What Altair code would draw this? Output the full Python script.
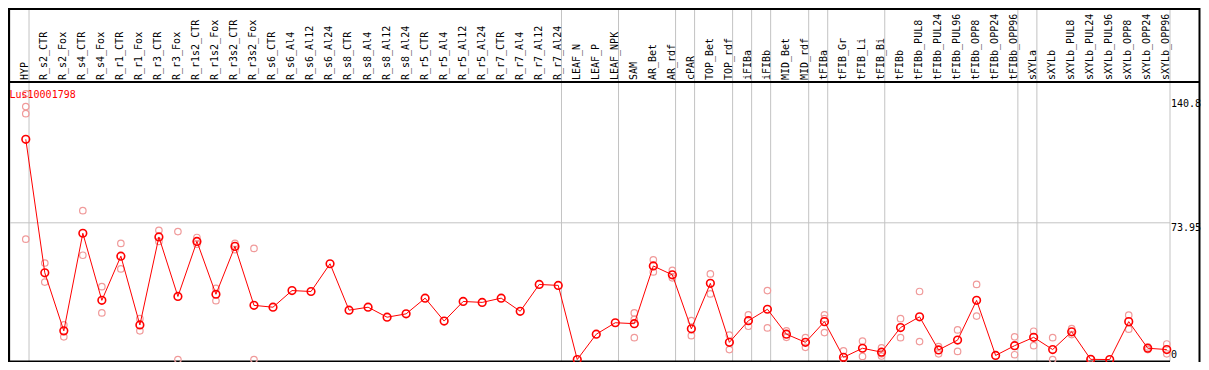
import altair as alt
import pandas as pd

# ---------------- data ----------------
categories = [
    "HYP", "R_s2_CTR", "R_s2_Fox", "R_s4_CTR", "R_s4_Fox", "R_r1_CTR", "R_r1_Fox",
    "R_r3_CTR", "R_r3_Fox", "R_r1s2_CTR", "R_r1s2_Fox", "R_r3s2_CTR", "R_r3s2_Fox",
    "R_s6_CTR", "R_s6_Al4", "R_s6_Al12", "R_s6_Al24", "R_s8_CTR", "R_s8_Al4",
    "R_s8_Al12", "R_s8_Al24", "R_r5_CTR", "R_r5_Al4", "R_r5_Al12", "R_r5_Al24",
    "R_r7_CTR", "R_r7_Al4", "R_r7_Al12", "R_r7_Al24", "LEAF_N", "LEAF_P", "LEAF_NPK",
    "SAM", "AR_Bet", "AR_rdf", "cPAR", "TOP_Bet", "TOP_rdf", "iFIBa", "iFIBb",
    "MID_Bet", "MID_rdf", "tFIBa", "tFIB_Gr", "tFIB_Li", "tFIB_Bi", "tFIBb",
    "tFIBb_PUL8", "tFIBb_PUL24", "tFIBb_PUL96", "tFIBb_OPP8", "tFIBb_OPP24",
    "tFIBb_OPP96", "sXYLa", "sXYLb", "sXYLb_PUL8", "sXYLb_PUL24", "sXYLb_PUL96",
    "sXYLb_OPP8", "sXYLb_OPP24", "sXYLb_OPP96",
]

means = [
    119.1, 46.9, 15.5, 68.3, 32.0, 55.9, 18.7, 66.3, 34.1, 63.9, 35.3, 61.2, 29.3,
    28.3, 37.3, 36.8, 51.8, 26.7, 28.3, 22.9, 24.7, 33.2, 20.8, 31.4, 30.9,
    33.2, 26.1, 40.6, 40.1, 0.0, 13.7, 19.9,
    19.4, 50.6, 45.8, 16.6, 41.2, 9.3, 21.0, 27.2, 13.7, 9.3, 20.5, 1.2, 6.1, 4.0,
    17.3, 23.1, 5.2, 10.5, 32.0, 2.2, 7.5, 12.0, 5.4, 15.0, 0.1, 0.0, 20.5, 6.1, 5.4,
]

replicates = [
    [143.7, 136.8, 133.0, 65.1], [52.2, 41.9], [18.7, 12.3], [80.5, 56.4], [39.4, 25.2],
    [62.8, 49.0], [22.1, 15.5], [69.9, 63.9], [69.2, 0.0], [66.0, 62.4], [38.5, 31.8],
    [62.8, 59.4], [60.1, 0.0],
    [], [], [], [], [], [], [], [], [], [], [], [], [], [], [], [], [], [], [],
    [25.2, 21.7, 11.8], [53.9, 47.4], [48.2, 44.2], [21.0, 12.9], [46.3, 35.5],
    [13.2, 5.4], [24.2, 18.0], [37.3, 17.1], [15.5, 12.0], [11.8, 6.6],
    [24.2, 22.1, 14.6], [4.7, 0.0], [10.0, 1.7], [6.3, 3.1, 1.9],
    [22.1, 11.8], [36.8, 9.7], [7.0, 3.1], [16.0, 4.4], [40.6, 23.5], [],
    [12.3, 2.6], [15.3, 7.5], [11.8, 0.0], [16.7, 13.5], [0.3], [],
    [24.0, 16.4], [6.8, 5.4], [8.4, 3.1],
]

group_breaks = [0, 1, 29, 32, 35, 36, 38, 39, 40, 42, 43, 46, 53, 54, 61]
tick_values = [140.8, 73.95, 0]
gene_name = "Lus10001798"

# ---------------- geometry (svg coordinates) ----------------
W, H = 1193, 354
COL = 1160 / 61.0
X0 = 2.0
u_min = -X0 / COL
u_max = (W - X0) / COL
PX = 1.8489
Y0 = 351.53
v_min = (Y0 - H) / PX
v_max = Y0 / PX
OFF = 0.83
HEAD_Y = 74
BOT_Y = 353.3

xs = alt.Scale(domain=[u_min, u_max], nice=False, zero=False)
ys = alt.Scale(domain=[v_min, v_max], nice=False, zero=False)

FONT = "DejaVu Sans Mono"

mean_df = pd.DataFrame({"cat": categories,
                        "u": [i + OFF for i in range(len(categories))],
                        "lu": [i + OFF - 0.03 for i in range(len(categories))],
                        "v": means})
rep_rows = []
for i, reps in enumerate(replicates):
    for r in reps:
        rep_rows.append({"cat": categories[i], "u": i + OFF, "v": r})
rep_df = pd.DataFrame(rep_rows)
break_df = pd.DataFrame({"u": group_breaks})
hgrid_df = pd.DataFrame({"v": [tick_values[1]], "u0": [u_min], "u1": [group_breaks[-1]]})
tick_df = pd.DataFrame({"v": tick_values, "t": [str(t) for t in tick_values]})
title_df = pd.DataFrame({"t": [gene_name]})


def X(f):
    return alt.X(f, scale=xs, axis=None)


def Y(f):
    return alt.Y(f, scale=ys, axis=None)


vgrid = alt.Chart(break_df).mark_rule(color="#c3c3c3", strokeWidth=1).encode(
    x=X("u:Q"), y=alt.value(0), y2=alt.value(BOT_Y))

hgrid = alt.Chart(hgrid_df).mark_rule(color="#c3c3c3", strokeWidth=1).encode(
    x=X("u0:Q"), x2="u1:Q", y=Y("v:Q"))

black = "#000000"
top_line = alt.Chart(title_df).mark_rule(color=black, strokeWidth=2).encode(
    x=alt.value(0), x2=alt.value(1192), y=alt.value(1))
head_line = alt.Chart(title_df).mark_rule(color=black, strokeWidth=2).encode(
    x=alt.value(0), x2=alt.value(1192), y=alt.value(HEAD_Y))
bottom_line = alt.Chart(hgrid_df).mark_rule(color=black, strokeWidth=1.5).encode(
    x=X("u0:Q"), x2="u1:Q", y=alt.value(BOT_Y))
left_line = alt.Chart(title_df).mark_rule(color=black, strokeWidth=2).encode(
    x=alt.value(1), y=alt.value(0), y2=alt.value(H))
right_line = alt.Chart(title_df).mark_rule(color=black, strokeWidth=2).encode(
    x=alt.value(1191.5), y=alt.value(0), y2=alt.value(H))

rep_pts = alt.Chart(rep_df).mark_point(shape="circle", filled=False, color="#f09a9a",
                                        size=42, strokeWidth=1.2, opacity=1).encode(
    x=X("u:Q"), y=Y("v:Q"))

mean_line = alt.Chart(mean_df).mark_line(color="#ff0000", strokeWidth=1).encode(
    x=X("u:Q"), y=Y("v:Q"), order="u:Q")

mean_pts = alt.Chart(mean_df).mark_point(shape="circle", filled=False, color="#ff0000",
                                         size=58, strokeWidth=1.6, opacity=1).encode(
    x=X("u:Q"), y=Y("v:Q"))

labels = alt.Chart(mean_df).mark_text(angle=270, align="left", baseline="middle",
                                      font=FONT, fontSize=10, color=black).encode(
    x=X("lu:Q"), y=alt.value(HEAD_Y - 2), text="cat:N")

title = alt.Chart(title_df).mark_text(align="left", baseline="alphabetic", font=FONT,
                                      fontSize=10, color="#ff0000").encode(
    x=alt.value(1.5), y=alt.value(89.7), text="t:N")

ticks_top = alt.Chart(tick_df[tick_df.v > 0]).mark_text(
    align="left", baseline="top", font=FONT, fontSize=10, color=black).encode(
    x=alt.value(1163), y=Y("v:Q"), text="t:N")
ticks_zero = alt.Chart(tick_df[tick_df.v == 0]).mark_text(
    align="left", baseline="bottom", font=FONT, fontSize=10, color=black).encode(
    x=alt.value(1163), y=Y("v:Q"), text="t:N")

chart = alt.layer(
    vgrid, hgrid, top_line, head_line, bottom_line, left_line, right_line,
    rep_pts, mean_line, mean_pts, labels, title, ticks_top, ticks_zero,
).properties(
    width=W, height=H, padding=0,
    autosize=alt.AutoSizeParams(type="none"),
).configure_view(strokeWidth=0)

chart.save("out.html", embed_options={"renderer": "svg", "actions": False})
